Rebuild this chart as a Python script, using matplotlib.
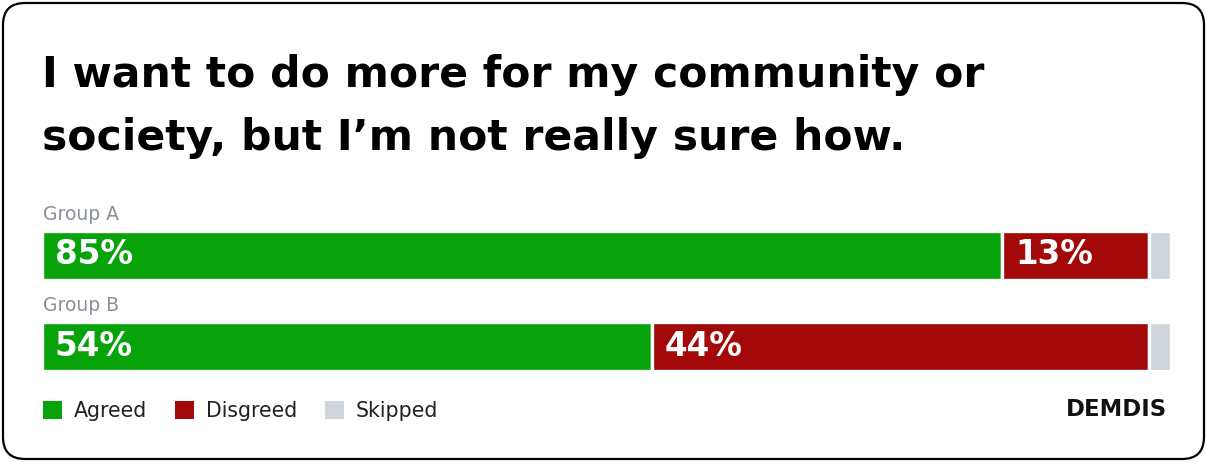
import matplotlib
matplotlib.use("Agg")
import matplotlib.pyplot as plt
from matplotlib.patches import FancyBboxPatch, Rectangle

# Survey results
title_lines = ["I want to do more for my community or",
               "society, but I\u2019m not really sure how."]
groups = ["Group A", "Group B"]
agreed = [85, 54]
disagreed = [13, 44]
skipped = [2, 2]
series_names = ["Agreed", "Disgreed", "Skipped"]
colors = ["#08a30b", "#a30909", "#d0d5dc"]
brand = "DEMDIS"

W, H = 1207, 462
fig = plt.figure(figsize=(W / 100, H / 100), dpi=100)
fig.patch.set_facecolor("white")

# Overlay axes in pixel units for frame, title and legend
ov = fig.add_axes([0, 0, 1, 1])
ov.set_xlim(0, W)
ov.set_ylim(H, 0)
ov.axis("off")

frame = FancyBboxPatch((3, 3), W - 6, H - 6,
                       boxstyle="round,pad=0,rounding_size=22",
                       facecolor="white", edgecolor="black", linewidth=1.6)
ov.add_patch(frame)

for i, line in enumerate(title_lines):
    ov.text(42, 87 + i * 63, line, fontsize=30.6, fontweight="bold",
            color="#000000", va="baseline", ha="left",
            family="DejaVu Sans")

# Bar axes (white segment edges leave a thin gap between segments)
left_px, right_px = 41.6, 1171.4
center_a, spacing = 255, 91
top_px = center_a - spacing / 2
bot_px = top_px + spacing * 2
ax = fig.add_axes([left_px / W, 1 - bot_px / H,
                   (right_px - left_px) / W, (bot_px - top_px) / H])
ax.set_xlim(0, 100)
ax.set_ylim(1.5, -0.5)
ax.axis("off")

bar_h = 49 / spacing
ys = list(range(len(groups)))
lefts = [0] * len(groups)
for vals, col in zip([agreed, disagreed, skipped], colors):
    ax.barh(ys, vals, left=lefts, height=bar_h, color=col,
            edgecolor="white", linewidth=2.4)
    lefts = [l + v for l, v in zip(lefts, vals)]

for y, g, a, d in zip(ys, groups, agreed, disagreed):
    ax.annotate(g, (0, y - bar_h / 2), xytext=(1, 5), textcoords="offset points",
                ha="left", va="bottom", fontsize=13.5, color="#8a9099")
    ax.annotate(f"{a}%", (0, y), xytext=(9.5, 0), textcoords="offset points",
                ha="left", va="center", fontsize=23.5, fontweight="bold",
                color="white")
    ax.annotate(f"{d}%", (a, y), xytext=(9.5, 0), textcoords="offset points",
                ha="left", va="center", fontsize=23.5, fontweight="bold",
                color="white")

# Legend
lx = [43, 175, 325]
for x, name, col in zip(lx, series_names, colors):
    ov.add_patch(Rectangle((x, 401), 19, 18, facecolor=col, edgecolor="none"))
    ov.text(x + 31, 411, name, fontsize=14.8, color="#222222",
            ha="left", va="center")

ov.text(1167, 410, brand, fontsize=16.4, fontweight="bold", color="#111111",
        ha="right", va="center")

fig.savefig("out.png", dpi=100, facecolor="white")
